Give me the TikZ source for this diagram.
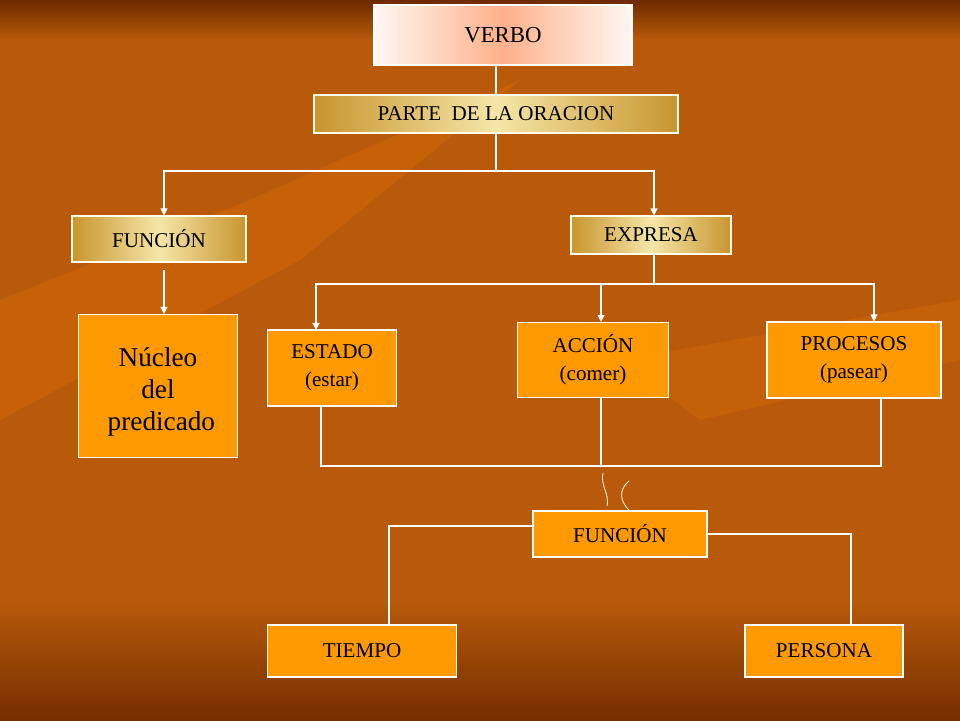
\documentclass[tikz,border=0pt]{standalone}
\usepackage{fontspec}
\setmainfont{Liberation Serif}
\usetikzlibrary{positioning, arrows.meta, calc}

\definecolor{bgmid}{HTML}{B85A0A}
\definecolor{bgdark}{HTML}{6E2A00}
\definecolor{boxor}{HTML}{FF9900}
\definecolor{goldmid}{HTML}{F5E6A8}
\definecolor{goldedge}{HTML}{C8952E}
\definecolor{pinkmid}{HTML}{FFB08A}

\begin{document}
\begin{tikzpicture}[
    x=0.02cm, y=-0.02cm,
    link/.style={white, line width=0.6pt},
    arr/.style={link, -{Triangle[width=4pt,length=4pt]}},
    orbox/.style={draw=white, line width=0.6pt, fill=boxor, align=center, inner sep=0pt, font=\fontsize{12}{16}\selectfont},
    goldbox/.style={draw=white!90!yellow, line width=0.6pt, left color=goldedge, right color=goldedge, middle color=goldmid, inner sep=0pt, font=\fontsize{12}{16}\selectfont},
    pinkbox/.style={draw=white, line width=0.6pt, left color=white!90!pinkmid, right color=white!90!pinkmid, middle color=pinkmid, inner sep=0pt, font=\fontsize{13}{16}\selectfont}
]

% fondo
\useasboundingbox (0,0) rectangle (960,720);
\shade[top color=bgdark, bottom color=bgmid] (0,0) rectangle (960,40);
\fill[bgmid] (0,40) rectangle (960,600);
\shade[top color=bgmid, bottom color=bgdark!90!bgmid] (0,600) rectangle (960,720);
\fill[orange!60!bgmid, opacity=0.35] (0,300) -- (250,200) -- (520,80) -- (300,260) -- (0,420) -- cycle;
\fill[orange!60!bgmid, opacity=0.3] (620,360) -- (960,300) -- (960,360) -- (700,420) -- cycle;

% cajas
\node[pinkbox, minimum width=258*0.02cm, minimum height=60*0.02cm] (verbo) at (503,35) {VERBO};
\node[goldbox, minimum width=364*0.02cm, minimum height=38*0.02cm] (parte) at (496,114) {PARTE\ \ DE LA ORACION};
\node[goldbox, minimum width=174*0.02cm, minimum height=46*0.02cm] (funcion) at (159,239) {FUNCIÓN};
\node[goldbox, minimum width=160*0.02cm, minimum height=38*0.02cm] (expresa) at (651,235) {EXPRESA};
\node[orbox, minimum width=159*0.02cm, minimum height=143*0.02cm, font=\fontsize{15.5}{18}\selectfont] (nucleo) at (158,386) {};
\node[align=center, inner sep=0pt, font=\fontsize{15.5}{18}\selectfont] (nucleotxt) at (158,392) {Núcleo\\del\\\ predicado};
\node[orbox, minimum width=129*0.02cm, minimum height=76*0.02cm] (estado) at (332,368) {ESTADO\\(estar)};
\node[orbox, minimum width=151*0.02cm, minimum height=75*0.02cm] (accion) at (593,360) {ACCIÓN\\(comer)};
\node[orbox, minimum width=174*0.02cm, minimum height=76*0.02cm] (procesos) at (854,360) {PROCESOS\\(pasear)};
\node[orbox, minimum width=174*0.02cm, minimum height=46*0.02cm] (funcion2) at (620,534) {FUNCIÓN};
\node[orbox, minimum width=189*0.02cm, minimum height=52*0.02cm] (tiempo) at (362,651) {TIEMPO};
\node[orbox, minimum width=158*0.02cm, minimum height=52*0.02cm] (persona) at (824,651) {PERSONA};

% conectores
\draw[link] (verbo.south -| parte.north) -- (parte.north);
\coordinate (p1) at (496,171);
\draw[link] (parte.south) -- (p1);
\draw[arr] (p1) -| (funcion.north -| 164,0);
\draw[arr] (p1) -| (expresa.north -| 654,0);
\coordinate (f1) at (164,270);
\draw[arr] (f1) -- (nucleo.north -| f1);
\coordinate (e1) at (654,284);
\draw[link] (expresa.south -| e1) -- (e1);
\draw[arr] (e1) -| (316,330);
\draw[arr] (e1) -| (accion.north -| 601,0);
\draw[arr] (e1) -| (procesos.north -| 874,0);
\coordinate (b1) at (601,466);
\draw[link] (estado.south -| 321,0) |- (b1);
\draw[link] (procesos.south -| 881,0) |- (b1);
\draw[link] (accion.south -| b1) -- (b1);
\draw[link] (funcion2.west |- 0,526) -| (tiempo.north -| 389,0);
\draw[link] (funcion2.east |- 0,534) -| (persona.north -| 851,0);

% llaves
\draw[white!85!orange, line width=0.5pt] (603,473) .. controls (600,485) and (610,495) .. (607,506);
\draw[white!85!orange, line width=0.5pt] (629,481) .. controls (618,490) and (620,502) .. (630,511);

\end{tikzpicture}
\end{document}
